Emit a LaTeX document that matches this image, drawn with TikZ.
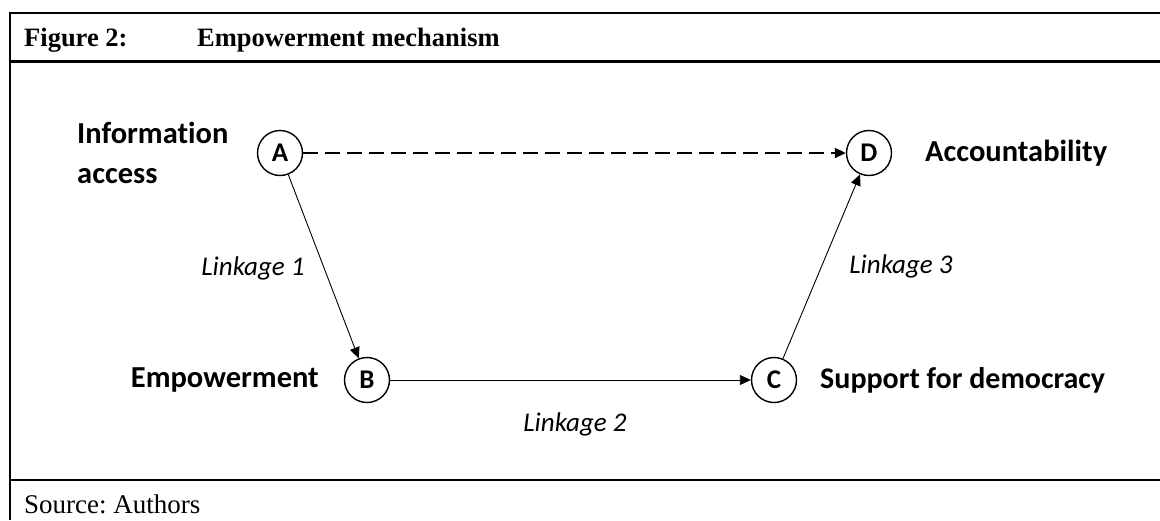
\documentclass[tikz,border=0pt]{standalone}
\usepackage{fontspec}
\setmainfont{Carlito}[Ligatures=NoCommon]
\newfontfamily\serifhead{Liberation Serif}
\usetikzlibrary{arrows.meta}
\frenchspacing
\tikzset{
  frame/.style={line width=2.5pt},
  circ/.style={circle, draw, line width=1.4pt, minimum size=45pt, inner sep=0pt, font=\fontsize{27}{30}\selectfont\bfseries},
  lbl/.style={inner sep=0pt, font=\fontsize{30.5}{40}\selectfont\bfseries},
  link/.style={inner sep=0pt, font=\fontsize{27}{32}\selectfont\itshape},
  head/.style={inner sep=0pt, anchor=base west, font=\serifhead\fontsize{26.5}{30}\selectfont\bfseries},
  src/.style={inner sep=0pt, anchor=base west, font=\serifhead\fontsize{27}{30}\selectfont},
  conn/.style={line width=0.9pt, -{Triangle[length=11pt,width=10pt]}},
  dconn/.style={line width=2pt, dash pattern=on 15pt off 7pt, -{Triangle[length=11pt,width=10pt]}}
}
\begin{document}
\begin{tikzpicture}[x=1pt,y=-1pt]
\useasboundingbox (0,0) rectangle (1160,520);
% frame
\coordinate (tl) at (10,13);
\coordinate (tr) at (1160,13);
\coordinate (hl) at (10,61.5);
\coordinate (hr) at (1160,61.5);
\coordinate (fl) at (10,480);
\coordinate (fr) at (1160,480);
\coordinate (bl) at (10,520);
\draw[frame] (tr) -- (tl) -- (bl);
\draw[frame] (hl) -- (hr);
\draw[frame] (fl) -- (fr);
% header and source
\node[head] (fig) at (24,46.5) {Figure 2:};
\node[head] (title) at (197,46.5) {Empowerment mechanism};
\node[src] (source) at (24,513) {Source: Authors};
% circles
\node[circ] (A) at (280,153) {A};
\node[circ] (D) at (869,153) {D};
\node[circ] (B) at (367,380) {B};
\node[circ] (C) at (774,380) {C};
% labels
\node[lbl, anchor=west, align=left] (info) at (77,153) {Information\\access};
\node[lbl, anchor=west] (acc) at (925,153) {Accountability};
\node[lbl, anchor=east] (emp) at (319,380) {Empowerment};
\node[lbl, anchor=west, font=\fontsize{30}{36}\selectfont\bfseries] (sup) at (820,380) {Support for democracy};
% connectors
\draw[dconn] (A) -- (D);
\draw[conn] (A) -- (B);
\draw[conn] (B) -- (C);
\draw[conn] (C) -- (D);
% linkage labels
\node[link] (l1) at (253,268) {Linkage 1};
\node[link] (l2) at (575,424) {Linkage 2};
\node[link] (l3) at (901,266) {Linkage 3};
\end{tikzpicture}
\end{document}
